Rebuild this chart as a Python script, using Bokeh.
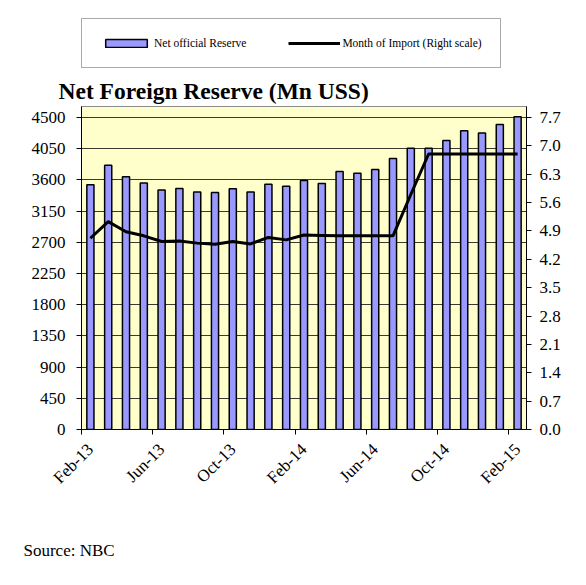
import math
from bokeh.plotting import figure
from bokeh.layouts import column
from bokeh.models import (Range1d, LinearAxis, FixedTicker, NumeralTickFormatter,
                          Legend, LegendItem, Title, ColumnDataSource)
from bokeh.embed import file_html
from bokeh.resources import INLINE

# ---- data ----
months = ["Feb-13", "Mar-13", "Apr-13", "May-13", "Jun-13", "Jul-13", "Aug-13", "Sep-13",
          "Oct-13", "Nov-13", "Dec-13", "Jan-14", "Feb-14", "Mar-14", "Apr-14", "May-14",
          "Jun-14", "Jul-14", "Aug-14", "Sep-14", "Oct-14", "Nov-14", "Dec-14", "Jan-15",
          "Feb-15"]
net_reserve = [3530, 3813, 3647, 3557, 3453, 3477, 3425, 3420, 3472, 3425, 3538, 3510,
               3590, 3550, 3720, 3695, 3750, 3910, 4055, 4058, 4170, 4308, 4278, 4398, 4510]
months_of_import = [4.72, 5.13, 4.88, 4.78, 4.64, 4.65, 4.60, 4.57, 4.64, 4.58, 4.74, 4.68,
                    4.80, 4.79, 4.78, 4.78, 4.78, 4.78, 5.80, 6.80, 6.80, 6.80, 6.80, 6.80, 6.80]
x_tick_labels = ["Feb-13", "Jun-13", "Oct-13", "Feb-14", "Jun-14", "Oct-14", "Feb-15"]
left_ticks = [0, 450, 900, 1350, 1800, 2250, 2700, 3150, 3600, 4050, 4500]
right_ticks = [0.0, 0.7, 1.4, 2.1, 2.8, 3.5, 4.2, 4.9, 5.6, 6.3, 7.0, 7.7]
series_names = ["Net official Reserve", "Month of Import (Right scale)"]
title_text = "Net Foreign Reserve (Mn USS)"
source_text = "Source: NBC"

SERIF = "'Liberation Serif', 'Times New Roman', serif"
BAR_FILL = "#9999FF"
W = 570
H_HEAD, H_MAIN, H_FOOT = 72, 435, 62
BL, BR = 81, 44

left_max = 4659
right_max = right_ticks[-1] * left_max / left_ticks[-1]

xs = [i + 0.5 for i in range(len(months))]
src = ColumnDataSource(dict(x=xs, month=months, reserve=net_reserve, moi=months_of_import))


def strip(height, top):
    f = figure(width=W, height=height, output_backend="svg", toolbar_location=None,
               x_range=Range1d(0, len(months)), y_range=Range1d(0, left_max),
               x_axis_type=None, y_axis_type=None,
               min_border_left=BL, min_border_right=BR, min_border_top=top,
               min_border_bottom=0)
    f.xgrid.visible = False
    f.ygrid.visible = False
    f.outline_line_color = None
    f.background_fill_color = "white"
    f.border_fill_color = "white"
    return f


# ---------------- header: legend ----------------
head = strip(H_HEAD, 0)
# legend-only copies of the two series (hidden; only their legend swatches are drawn)
leg_bar = head.vbar(x="x", top="reserve", width=0.4, source=src, fill_color=BAR_FILL,
                    line_color="black", line_width=1.5, visible=False)
leg_line = head.line(x="x", y="moi", source=src, line_color="black", line_width=3,
                     visible=False)
legend = Legend(items=[LegendItem(label=series_names[0], renderers=[leg_bar]),
                       LegendItem(label=series_names[1], renderers=[leg_line])],
                orientation="horizontal", location=(0, 4),
                glyph_width=52, glyph_height=10, label_height=10, label_standoff=2,
                spacing=42, padding=18, margin=0,
                label_text_font=SERIF, label_text_font_size="11.5px",
                label_text_color="black",
                border_line_color="#555555", border_line_width=1.2,
                background_fill_color="white",
                inactive_fill_alpha=0)
head.add_layout(legend, "center")

# ---------------- main chart ----------------
p = figure(width=W, height=H_MAIN, output_backend="svg", toolbar_location=None,
           x_range=Range1d(0, len(months)), y_range=Range1d(0, left_max),
           min_border_left=BL, min_border_right=BR, min_border_top=34, min_border_bottom=78)
p.extra_y_ranges = {"right": Range1d(0, right_max)}
p.background_fill_color = "#FFFFCC"
p.border_fill_color = "white"
p.outline_line_color = "#8c8c8c"
p.outline_line_width = 1

p.vbar(x="x", top="reserve", width=0.4, source=src,
       fill_color=BAR_FILL, line_color="black", line_width=1.5)
p.line(x="x", y="moi", source=src, y_range_name="right",
       line_color="black", line_width=3)

p.xgrid.visible = False
p.ygrid.grid_line_color = "#3a3a30"
p.ygrid.grid_line_width = 1
p.ygrid.ticker = FixedTicker(ticks=left_ticks)

# x axis: tick marks at category boundaries (minor), labels under bar centres
label_pos = [i * 4 + 0.5 for i in range(len(x_tick_labels))]
boundary_pos = [i * 4 for i in range(len(x_tick_labels))]
xa = p.xaxis[0]
xa.ticker = FixedTicker(ticks=label_pos, minor_ticks=boundary_pos)
xa.major_label_overrides = {pos: lab for pos, lab in zip(label_pos, x_tick_labels)}
xa.major_label_orientation = math.pi / 4
xa.major_label_text_font = SERIF
xa.major_label_text_font_size = "17px"
xa.major_label_text_color = "black"
xa.major_tick_out = 0
xa.major_tick_in = 0
xa.minor_tick_out = 5
xa.minor_tick_in = 0
xa.minor_tick_line_color = "black"
xa.axis_line_color = "black"
xa.major_label_standoff = 12

ya = p.yaxis[0]
ya.ticker = FixedTicker(ticks=left_ticks)
ya.major_label_text_font = SERIF
ya.major_label_text_font_size = "17px"
ya.major_label_text_color = "black"
ya.major_tick_out = 5
ya.major_tick_in = 0
ya.minor_tick_line_color = None
ya.axis_line_color = "black"
ya.major_label_standoff = 11

ra = LinearAxis(y_range_name="right", ticker=FixedTicker(ticks=right_ticks),
                formatter=NumeralTickFormatter(format="0.0"))
ra.major_label_text_font = SERIF
ra.major_label_text_font_size = "17px"
ra.major_label_text_color = "black"
ra.major_tick_out = 5
ra.major_tick_in = 0
ra.minor_tick_line_color = None
ra.axis_line_color = "black"
ra.major_label_standoff = 8
p.add_layout(ra, "right")

p.add_layout(Title(text=title_text, align="left", offset=-23,
                   text_font=SERIF, text_font_size="23.5px", text_font_style="bold",
                   text_color="black", standoff=5), "above")

# ---------------- footer: source note ----------------
foot = strip(H_FOOT, 52)
foot.add_layout(Title(text=source_text, align="left", offset=-58,
                      text_font=SERIF, text_font_size="17px", text_font_style="normal",
                      text_color="black", standoff=0), "above")

layout = column(head, p, foot, spacing=0)
open("out.html", "w").write(file_html(layout, INLINE))
